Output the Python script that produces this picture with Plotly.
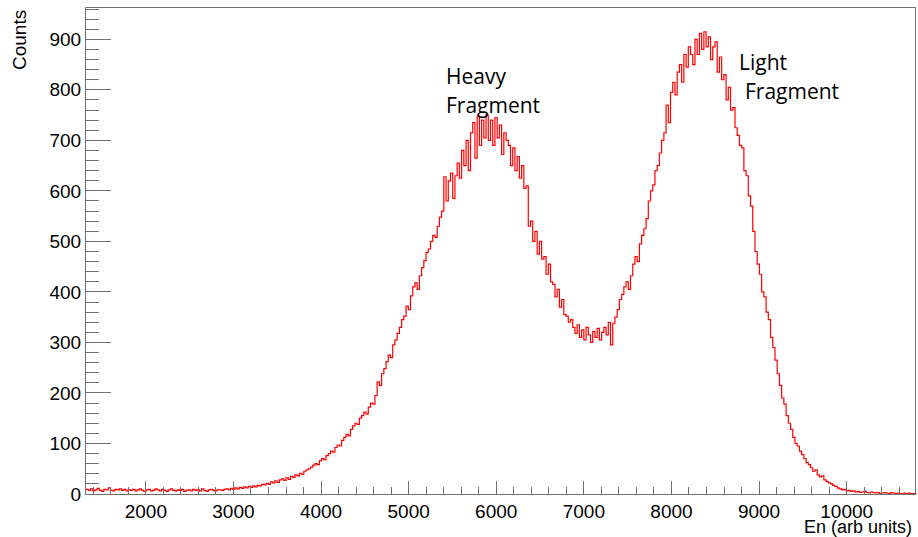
import numpy as np
import plotly.graph_objects as go

# Histogram definition (ROOT-style TH1: nbins, xmin, xmax)
x_min = 1317
x_max = 10780

# counts per bin (rows of 20 bins)
counts = [
    9, 7, 10, 6, 8, 11, 7, 5, 9, 8, 12, 7, 6, 9, 8, 10, 7, 9, 6, 8,
    7, 9, 6, 8, 10, 7, 5, 8, 9, 6, 7, 10, 8, 6, 9, 7, 5, 8, 10, 7,
    6, 8, 7, 9, 5, 7, 8, 6, 9, 7, 8, 6, 10, 7, 5, 8, 9, 7, 6, 8,
    8, 7, 9, 10, 8, 11, 9, 12, 10, 13, 11, 14, 12, 15, 13, 16, 14, 17, 16, 19,
    18, 21, 19, 24, 22, 26, 23, 28, 30, 27, 32, 29, 35, 33, 38, 36, 41, 39, 45, 48,
    50, 53, 57, 60, 58, 66, 70, 68, 76, 80, 85, 83, 92, 97, 95, 106, 112, 118, 115, 128,
    135, 140, 138, 150, 155, 162, 158, 172, 180, 178, 195, 222, 215, 238, 248, 262, 275, 270, 295, 305,
    318, 330, 345, 352, 372, 365, 392, 410, 418, 405, 432, 448, 462, 478, 485, 500, 512, 508, 530, 548,
    560, 628, 580, 620, 635, 585, 630, 655, 625, 680, 650, 700, 640, 715, 735, 665, 748, 690, 740, 705,
    750, 700, 740, 690, 745, 705, 730, 672, 715, 700, 690, 650, 685, 640, 668, 625, 650, 605, 610, 530,
    540, 500, 520, 475, 500, 465, 470, 435, 455, 420, 415, 390, 405, 370, 385, 355, 352, 340, 345, 330,
    318, 335, 310, 325, 305, 330, 315, 300, 322, 310, 328, 305, 320, 330, 315, 340, 295, 338, 350, 365,
    385, 395, 410, 420, 405, 432, 455, 470, 460, 495, 512, 525, 545, 580, 600, 612, 640, 650, 675, 700,
    715, 770, 735, 795, 815, 790, 835, 850, 815, 870, 845, 885, 870, 850, 900, 870, 912, 880, 915, 885,
    905, 860, 885, 895, 835, 865, 820, 830, 780, 805, 760, 765, 725, 710, 690, 685, 640, 630, 590, 570,
    520, 480, 455, 435, 400, 390, 360, 345, 310, 290, 265, 238, 215, 190, 178, 155, 140, 128, 112, 100,
    95, 85, 78, 70, 62, 58, 52, 45, 48, 38, 34, 36, 28, 25, 22, 20, 17, 15, 12, 10,
    8, 9, 6, 7, 5, 6, 4, 5, 3, 4, 5, 3, 2, 4, 3, 2, 3, 1, 2, 3,
    2, 1, 3, 2, 1, 2, 1, 0, 2, 1, 2, 1, 1,
]

x_title = "En (arb units)"
y_title = "Counts"
labels = [
    ("Heavy", 444, 76),
    ("Fragment", 444, 105),
    ("Light", 737, 62),
    ("Fragment", 743, 91),
]

edges = np.linspace(x_min, x_max, len(counts) + 1)
xs = edges
ys = list(counts) + [counts[-1]]

fig = go.Figure()
fig.add_trace(go.Scatter(
    x=xs, y=ys, mode="lines", line=dict(shape="hv", color="#ff0000", width=1.2),
    hoverinfo="skip", showlegend=False,
))

W, H = 918, 537
L, R, T, B = 86, 3, 8, 43
pw, ph = W - L - R, H - T - B

axis_font = dict(family="Liberation Sans, Arial, sans-serif", size=19, color="black")
line_col = "#707070"

fig.update_layout(
    width=W, height=H,
    margin=dict(l=L, r=R, t=T, b=B),
    paper_bgcolor="white", plot_bgcolor="white",
    xaxis=dict(
        range=[x_min, x_max], showgrid=False, zeroline=False,
        showline=True, mirror=True, linecolor=line_col, linewidth=1,
        ticks="inside", ticklen=13, tickcolor=line_col, tickwidth=1,
        tick0=0, dtick=1000, tickformat="d", tickfont=axis_font,
        minor=dict(ticks="inside", ticklen=7, dtick=200, tick0=0, tickcolor=line_col, tickwidth=1),
    ),
    yaxis=dict(
        range=[0, 962], showgrid=False, zeroline=False,
        showline=True, mirror=True, linecolor=line_col, linewidth=1,
        ticks="inside", ticklen=25, tickcolor=line_col, tickwidth=1,
        tick0=0, dtick=100, tickformat="d", tickfont=axis_font,
        minor=dict(ticks="inside", ticklen=13, dtick=20, tick0=0, tickcolor=line_col, tickwidth=1),
    ),
)

def px2paper(px, py):
    return (px - L) / pw, (H - B - py) / ph

ann = []
cx, cy = px2paper(19, 40)
ann.append(dict(text=y_title, x=cx, y=cy, xref="paper", yref="paper", textangle=-90,
                showarrow=False, xanchor="center", yanchor="middle",
                font=dict(family="Liberation Sans, Arial, sans-serif", size=19, color="black")))
cx, cy = px2paper(914, 527)
ann.append(dict(text=x_title, x=cx, y=cy, xref="paper", yref="paper",
                showarrow=False, xanchor="right", yanchor="middle",
                font=dict(family="Liberation Sans, Arial, sans-serif", size=18, color="black")))
for txt, px, py in labels:
    cx, cy = px2paper(px, py)
    ann.append(dict(text=txt, x=cx, y=cy, xref="paper", yref="paper",
                    showarrow=False, xanchor="left", yanchor="middle",
                    font=dict(family="Open Sans, sans-serif", size=21, color="black")))
fig.update_layout(annotations=ann)

fig.write_html("out.html")
